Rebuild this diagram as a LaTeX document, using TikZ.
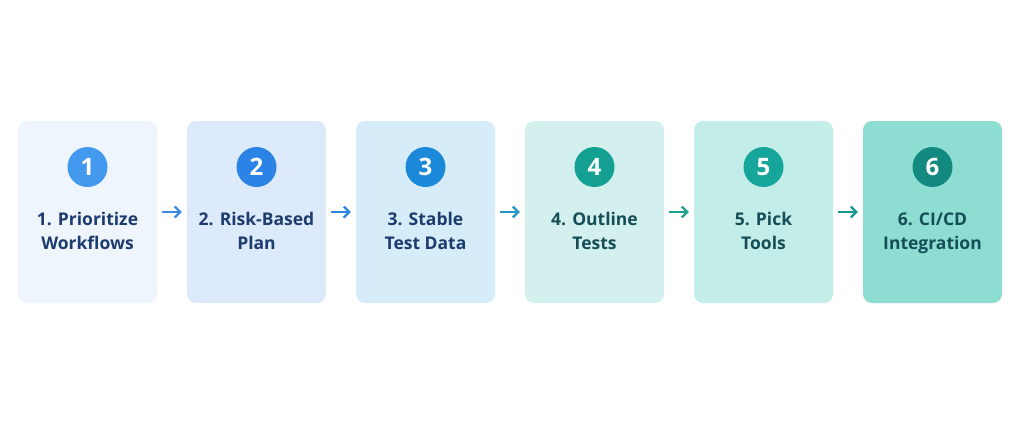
\documentclass[tikz,border=0pt]{standalone}
\usepackage{fontspec}
\setmainfont{Open Sans}
\usetikzlibrary{arrows.meta}
\definecolor{bf1}{HTML}{EEF5FD}
\definecolor{bf2}{HTML}{DCEAFB}
\definecolor{bf3}{HTML}{D6EDF9}
\definecolor{bf4}{HTML}{D3F0EE}
\definecolor{bf5}{HTML}{C2EDE8}
\definecolor{bf6}{HTML}{8DDDD3}
\definecolor{cc1}{HTML}{4299EE}
\definecolor{cc2}{HTML}{2C83E6}
\definecolor{cc3}{HTML}{1B88D8}
\definecolor{cc4}{HTML}{14A093}
\definecolor{cc5}{HTML}{15A59A}
\definecolor{cc6}{HTML}{128A80}
\definecolor{tnavy}{HTML}{1C3B6E}
\definecolor{tteal}{HTML}{164E58}
\definecolor{ar1}{HTML}{3A8BE6}
\definecolor{ar2}{HTML}{2E86E0}
\definecolor{ar3}{HTML}{2596C8}
\definecolor{ar4}{HTML}{1EA090}
\definecolor{ar5}{HTML}{18998F}
\tikzset{
  x=1pt, y=-1pt,
  stepbox/.style={rounded corners=9pt, minimum width=139pt, minimum height=182pt, inner sep=0pt},
  numdot/.style={circle, minimum size=40pt, inner sep=0pt, text=white, font=\bfseries\fontsize{24}{24}\selectfont},
  lbl/.style={align=center, font=\bfseries\fontsize{17.5}{24}\selectfont},
  conn/.style={line width=2.2pt, -{Straight Barb[length=5.5pt,width=11pt,line width=2.2pt]}}
}
\begin{document}
\begin{tikzpicture}
\useasboundingbox (0,0) rectangle (1024,436);
\fill[white] (0,0) rectangle (1024,436);
\foreach \i/\la/\lb/\tc in {1/{1. Prioritize}/{Workflows}/tnavy,2/{2. Risk-Based}/{Plan}/tnavy,3/{3. Stable}/{Test Data}/tnavy,4/{4. Outline}/{Tests}/tteal,5/{5. Pick}/{Tools}/tteal,6/{6. CI/CD}/{Integration}/tteal}{
  \pgfmathsetmacro{\cx}{87.5+169*(\i-1)}
  \node[stepbox, fill=bf\i] (b\i) at (\cx,212) {};
  \node[numdot, fill=cc\i] (c\i) at (\cx,167) {\i};
  \node[lbl, text=\tc] (t\i) at (\cx,233) {\strut\la\\\strut\lb};
}
\draw[conn, ar1] ([xshift=5pt]b1.east) -- ([xshift=-5pt]b2.west);
\draw[conn, ar2] ([xshift=5pt]b2.east) -- ([xshift=-5pt]b3.west);
\draw[conn, ar3] ([xshift=5pt]b3.east) -- ([xshift=-5pt]b4.west);
\draw[conn, ar4] ([xshift=5pt]b4.east) -- ([xshift=-5pt]b5.west);
\draw[conn, ar5] ([xshift=5pt]b5.east) -- ([xshift=-5pt]b6.west);
\end{tikzpicture}
\end{document}
